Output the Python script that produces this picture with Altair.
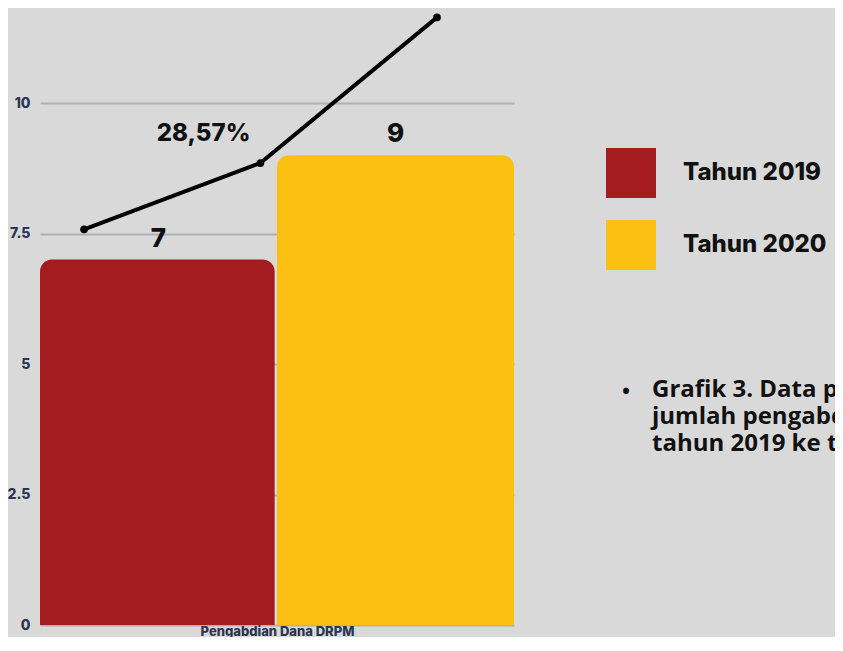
import altair as alt
import pandas as pd

# --- data ---
years = ["Tahun 2019", "Tahun 2020"]
values = [7, 9]
bar_start = [0.0, 1.0]
bar_end = [0.99, 2.0]
colors = ["#a51c20", "#fcc012"]

line_x = [0.186, 0.93, 1.675]
line_y = [7.58, 8.85, 11.64]

label_text = ["7", "9", "28,57%"]
label_x = [0.5, 1.5, 0.69]
label_y = [7, 9, 9]
label_size = [26, 26, 24]

y_ticks = [0, 2.5, 5, 7.5, 10]
caption = ["Grafik 3. Data peningkatan", "jumlah pengabdian Dana DRPM", "tahun 2019 ke tahun 2020"]

FONT = "Inter"
NAVY = "#2b3452"

bars_df = pd.DataFrame({"year": years, "value": values, "x0": bar_start, "x1": bar_end})
line_df = pd.DataFrame({"x": line_x, "y": line_y})
lab_df = pd.DataFrame({"t": label_text, "x": label_x, "y": label_y, "s": label_size})

xs = alt.Scale(domain=[0, 2], nice=False, zero=False)
ys = alt.Scale(domain=[0, 11.82], nice=False)

bars = alt.Chart(bars_df).mark_bar(
    cornerRadiusTopLeft=12, cornerRadiusTopRight=12
).encode(
    x=alt.X("x0:Q", scale=xs, axis=alt.Axis(
        labels=False, ticks=False, domain=False, grid=False,
        title="Pengabdian Dana DRPM", titleFont=FONT, titleFontSize=13,
        titleFontWeight=800, titleColor=NAVY, titlePadding=0)),
    x2="x1:Q",
    y=alt.Y("value:Q", scale=ys, axis=alt.Axis(
        values=y_ticks, format="~g", title=None, domain=False, ticks=False,
        labelFont=FONT, labelFontSize=14, labelFontWeight=800, labelColor=NAVY,
        labelPadding=10, grid=True, gridColor="#b0b0b8", gridWidth=2)),
    y2=alt.datum(0),
    color=alt.Color("year:N", scale=alt.Scale(domain=years, range=colors),
                    legend=alt.Legend(
                        orient="none", legendX=566, legendY=140, title=None,
                        symbolType="square", symbolSize=2500, symbolStrokeWidth=0,
                        symbolOpacity=1, labelFont=FONT, labelFontSize=24,
                        labelFontWeight=800, labelColor="#111111",
                        labelOffset=27, rowPadding=22, padding=0, labelLimit=400)),
)

line = alt.Chart(line_df).mark_line(color="black", strokeWidth=4).encode(
    x=alt.X("x:Q", scale=xs), y=alt.Y("y:Q", scale=ys)
)
pts = alt.Chart(line_df).mark_point(filled=True, color="black", size=60, opacity=1).encode(
    x=alt.X("x:Q", scale=xs), y=alt.Y("y:Q", scale=ys)
)

labels = alt.Chart(lab_df).mark_text(
    font=FONT, fontWeight=800, color="#111111", dy=-21, baseline="middle"
).encode(
    x=alt.X("x:Q", scale=xs), y=alt.Y("y:Q", scale=ys), text="t:N",
    size=alt.Size("s:Q", scale=None, legend=None)
)

bullet = alt.Chart(pd.DataFrame({"k": [0]})).mark_text(
    text="•", font="Open Sans", fontSize=28, color="#111111", baseline="middle", align="center"
).encode(x=alt.value(586), y=alt.value(385))

cap = alt.Chart(pd.DataFrame({"k": [0]})).mark_text(
    text=caption, font="Open Sans", fontSize=24, fontWeight="bold", color="#111111",
    baseline="middle", align="left", lineHeight=27
).encode(x=alt.value(612), y=alt.value(382))

chart = alt.layer(bars, line, pts, labels, bullet, cap).properties(
    width=474, height=617, background="#d9d9d9",
    autosize=alt.AutoSizeParams(type="none"),
    padding={"left": 32, "top": 0, "right": 321, "bottom": 12},
).configure_view(stroke=None)

chart.save("out.html", embed_options={"renderer": "svg", "actions": False})
